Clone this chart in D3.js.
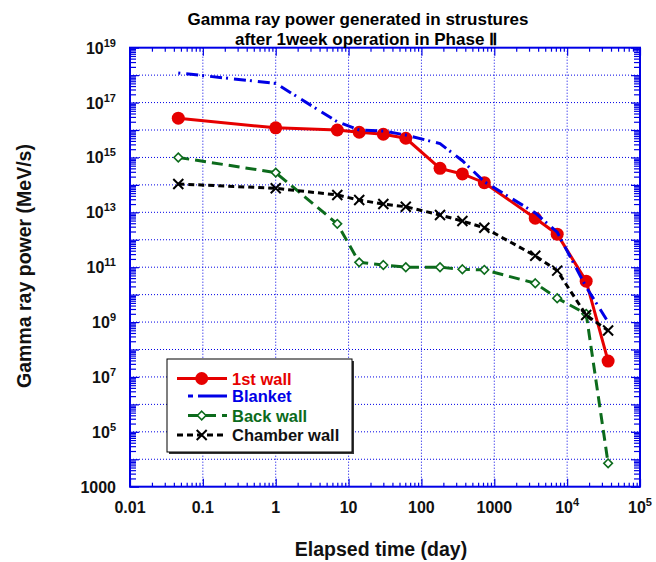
<!DOCTYPE html>
<html><head><meta charset="utf-8">
<script src="https://cdn.jsdelivr.net/npm/d3@7"></script>
<style>body{margin:0;background:#fff}svg{display:block}text{font-family:"Liberation Sans",Arial,sans-serif;font-weight:bold}</style>
</head><body>
<svg id="c" width="656" height="562"></svg>
<script>
// ---- data ----
const times = [0.046, 1, 7, 14, 30, 61, 180, 365, 730, 3650, 7300, 18250, 36500];
const firstWall = [2.7e16, 1.2e16, 1.0e16, 8.3e15, 7.0e15, 5.0e15, 4.0e14, 2.5e14, 1.2e14, 6.1e12, 1.6e12, 3.1e10, 3.8e7];
const blanket = [1.2e18, 5.0e17, 2.0e16, 1.0e16, 9.2e15, 6.6e15, 3.2e15, 7.6e14, 1.3e14, 9.5e12, 1.9e12, 1.9e10, 1.0e9];
const backWall = [1.0e15, 2.8e14, 3.8e12, 1.5e11, 1.2e11, 1.0e11, 1.0e11, 8.4e10, 8.0e10, 2.6e10, 7.4e9, 2.0e9, 7.1e3];
const chamberWall = [1.08e14, 7.5e13, 4.3e13, 2.8e13, 2.0e13, 1.6e13, 8.0e12, 4.8e12, 2.75e12, 2.6e11, 7.5e10, 1.8e9, 4.9e8];
const seriesNames = ["1st wall", "Blanket", "Back wall", "Chamber wall"];
const xTickValues = [0.01, 0.1, 1, 10, 100, 1000, 1e4, 1e5];
const xTickLabels = ["0.01", "0.1", "1", "10", "100", "1000", "10^4", "10^5"];
const yTickValues = [1e19, 1e17, 1e15, 1e13, 1e11, 1e9, 1e7, 1e5, 1e3];
const yTickLabels = ["10^19", "10^17", "10^15", "10^13", "10^11", "10^9", "10^7", "10^5", "1000"];
const titleLines = ["Gamma ray power generated in strustures", "after 1week operation in Phase \u2161"];
const xTitle = "Elapsed time (day)";
const yTitle = "Gamma ray power (MeV/s)";

// ---- layout ----
const L = 130, R = 640, T = 47.7, B = 486.7;
const svg = d3.select("#c");
const x = d3.scaleLog().domain([0.01, 1e5]).range([L, R]);
const y = d3.scaleLog().domain([1e3, 1e19]).range([B, T]);
const blue = "#0000e6", red = "#e60000", green = "#0c6b1c";

// decades and minors
const xDecades = d3.range(-2, 6).map(e => Math.pow(10, e));
const yDecades = d3.range(3, 20).map(e => Math.pow(10, e));
const minors = decs => decs.slice(0, -1).flatMap(d => d3.range(2, 10).map(k => d * k));

// grid
const g = svg.append("g");
g.selectAll(".gx").data(xDecades.slice(1, -1)).join("line")
  .attr("x1", d => x(d)).attr("x2", d => x(d)).attr("y1", T).attr("y2", B)
  .attr("stroke", blue).attr("stroke-width", 1).attr("stroke-dasharray", "1,2");
g.selectAll(".gy").data(yDecades.slice(1, -1)).join("line")
  .attr("y1", d => y(d)).attr("y2", d => y(d)).attr("x1", L).attr("x2", R)
  .attr("stroke", blue).attr("stroke-width", 1).attr("stroke-dasharray", "1,2");

// ticks via axes (inward)
function styleAxis(sel) {
  sel.select(".domain").remove();
  sel.selectAll(".tick line").attr("stroke", blue).attr("stroke-width", 1.2);
  sel.selectAll(".tick text").remove();
}
svg.append("g").attr("transform", `translate(0,${B})`)
  .call(d3.axisBottom(x).tickValues(xDecades).tickSize(-8).tickFormat("")).call(styleAxis);
svg.append("g").attr("transform", `translate(0,${B})`)
  .call(d3.axisBottom(x).tickValues(minors(xDecades)).tickSize(-4).tickFormat("")).call(styleAxis);
svg.append("g").attr("transform", `translate(0,${T})`)
  .call(d3.axisTop(x).tickValues(xDecades).tickSize(-8).tickFormat("")).call(styleAxis);
svg.append("g").attr("transform", `translate(0,${T})`)
  .call(d3.axisTop(x).tickValues(minors(xDecades)).tickSize(-4).tickFormat("")).call(styleAxis);
svg.append("g").attr("transform", `translate(${L},0)`)
  .call(d3.axisLeft(y).tickValues(yDecades).tickSize(-9).tickFormat("")).call(styleAxis);
svg.append("g").attr("transform", `translate(${L},0)`)
  .call(d3.axisLeft(y).tickValues(minors(yDecades)).tickSize(-6).tickFormat("")).call(styleAxis);
svg.append("g").attr("transform", `translate(${R},0)`)
  .call(d3.axisRight(y).tickValues(yDecades).tickSize(-9).tickFormat("")).call(styleAxis);
svg.append("g").attr("transform", `translate(${R},0)`)
  .call(d3.axisRight(y).tickValues(minors(yDecades)).tickSize(-6).tickFormat("")).call(styleAxis);

// frame
svg.append("rect").attr("x", L).attr("y", T).attr("width", R - L).attr("height", B - T)
  .attr("fill", "none").attr("stroke", blue).attr("stroke-width", 2);

// tick labels
function writeLabel(t, s) {
  if (s.startsWith("10^")) {
    t.append("tspan").text("10");
    t.append("tspan").text(s.slice(3)).attr("font-size", 11).attr("dy", -7);
  } else t.text(s);
}
xTickValues.forEach((v, i) => {
  const t = svg.append("text").attr("x", x(v)).attr("y", 513).attr("text-anchor", "middle")
    .attr("font-size", 16).attr("fill", "#111");
  writeLabel(t, xTickLabels[i]);
});
yTickValues.forEach((v, i) => {
  const t = svg.append("text").attr("x", 116).attr("y", y(v) + 6).attr("text-anchor", "end")
    .attr("font-size", 16).attr("fill", "#111");
  writeLabel(t, yTickLabels[i]);
});

// titles
svg.append("text").attr("x", 358).attr("y", 25).attr("text-anchor", "middle").attr("font-size", 17).attr("fill", "#000").text(titleLines[0]);
svg.append("text").attr("x", 366).attr("y", 45).attr("text-anchor", "middle").attr("font-size", 17).attr("fill", "#000").text(titleLines[1]);
svg.append("text").attr("x", 381).attr("y", 556).attr("text-anchor", "middle").attr("font-size", 19.5).attr("fill", "#111").text(xTitle);
svg.append("text").attr("transform", "translate(31,266) rotate(-90)").attr("text-anchor", "middle").attr("font-size", 19.5).attr("fill", "#111").text(yTitle);

// series
const line = d3.line().x(d => x(d[0])).y(d => y(d[1]));
const pts = vals => times.map((t, i) => [t, vals[i]]);

const styles = [
  {vals: firstWall, color: red, dash: null, marker: "circle"},
  {vals: blanket, color: blue, dash: "2,6,12,4", marker: null},
  {vals: backWall, color: green, dash: "11,6", marker: "diamond"},
  {vals: chamberWall, color: "#000", dash: "6,4", marker: "x"}
];
function drawMarker(sel, type, color) {
  if (type === "circle") sel.append("circle").attr("r", 6.5).attr("fill", color);
  else if (type === "diamond") sel.append("path").attr("d", "M0,-4.3L4.3,0L0,4.3L-4.3,0Z").attr("fill", "#fff").attr("stroke", color).attr("stroke-width", 1.6);
  else if (type === "x") sel.append("path").attr("d", "M-5,-5L5,5M-5,5L5,-5").attr("stroke", color).attr("stroke-width", 2);
}
styles.forEach(s => {
  const gg = svg.append("g");
  gg.append("path").datum(pts(s.vals)).attr("d", line).attr("fill", "none")
    .attr("stroke", s.color).attr("stroke-width", 3).attr("stroke-dasharray", s.dash);
  if (s.marker) {
    gg.selectAll("g.m").data(pts(s.vals)).join("g").attr("class", "m")
      .attr("transform", d => `translate(${x(d[0])},${y(d[1])})`)
      .each(function () { drawMarker(d3.select(this), s.marker, s.color); });
  }
});

// legend
const lg = svg.append("g");
lg.append("rect").attr("x", 169).attr("y", 361).attr("width", 185).attr("height", 93).attr("fill", "#333");
lg.append("rect").attr("x", 167).attr("y", 359).attr("width", 185).attr("height", 93).attr("fill", "#fff").attr("stroke", "#000").attr("stroke-width", 1);
const rowY = [378.5, 396, 415.5, 435];
const sampleX = [[177, 227], [188, 227], [188, 227], [177, 227]];
const textColors = [red, blue, green, "#111"];
styles.forEach((s, i) => {
  lg.append("line").attr("x1", sampleX[i][0]).attr("x2", sampleX[i][1]).attr("y1", rowY[i]).attr("y2", rowY[i])
    .attr("stroke", s.color).attr("stroke-width", 3).attr("stroke-dasharray", s.dash ? (i === 1 ? "5,5,30,0" : s.dash) : null);
  if (s.marker) {
    const m = lg.append("g").attr("transform", `translate(201.7,${rowY[i]})`);
    drawMarker(m, s.marker, s.color);
  }
  lg.append("text").attr("x", 232).attr("y", rowY[i] + 6).attr("font-size", 16.5).attr("fill", textColors[i]).text(seriesNames[i]);
});
</script>
</body></html>
